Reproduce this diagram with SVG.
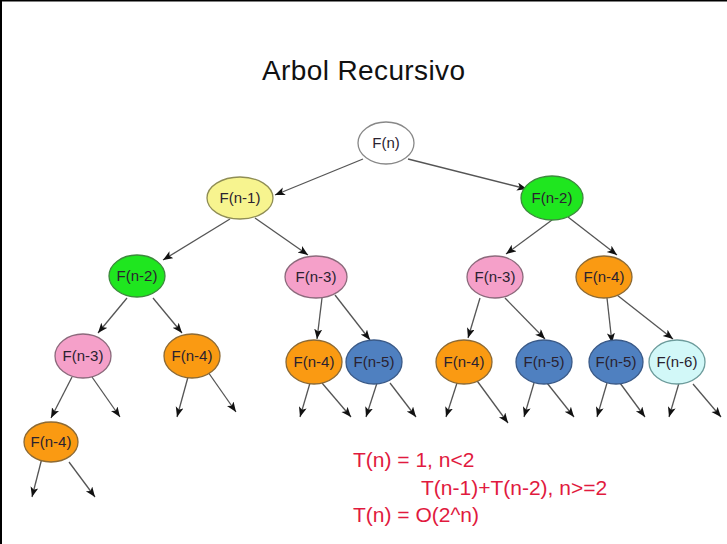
<svg xmlns="http://www.w3.org/2000/svg" width="727" height="544" viewBox="0 0 727 544">
<defs>
<marker id="arr" markerUnits="userSpaceOnUse" markerWidth="12" markerHeight="10" refX="10" refY="4" orient="auto">
<path d="M0,0 L10,4 L0,8 L2.5,4 z" fill="#111"/>
</marker>
<style>
.e{stroke:#666;stroke-width:1.3}
.w{fill:#ffffff;stroke:#888}
.y{fill:#f7f48f;stroke:#8f8d55}
.g{fill:#1fe61f;stroke:#3d8a3d}
.p{fill:#f5a0c9;stroke:#8c6a7c}
.o{fill:#fa9a12;stroke:#8c6a35}
.b{fill:#4f80c0;stroke:#3a5a88}
.c{fill:#d2f8f8;stroke:#6d9c9c}
.t{font-family:"Liberation Sans",Arial,sans-serif;font-size:15px;fill:#2a2230;text-anchor:middle}
.eq{font-family:"Liberation Sans",Arial,sans-serif;font-size:21px;fill:#e11a3e}
#edges line{stroke:#555;stroke-width:1.3;marker-end:url(#arr)}
</style>
</defs>
<rect x="0" y="0" width="727" height="544" fill="#ffffff"/>
<rect x="0" y="0" width="727" height="1.5" fill="#000"/>
<rect x="0" y="0" width="2" height="544" fill="#000"/>
<text x="262" y="80" font-family="'Liberation Sans',Arial,sans-serif" font-size="28" fill="#111" textLength="203" lengthAdjust="spacing">Arbol Recursivo</text>

<g id="edges">
<line x1="363" y1="159" x2="275" y2="195"/>
<line x1="408" y1="159" x2="527" y2="189"/>
<line x1="230" y1="219" x2="163" y2="260"/>
<line x1="255" y1="218" x2="308" y2="255"/>
<line x1="552" y1="220" x2="506" y2="254"/>
<line x1="568" y1="217" x2="617" y2="255"/>
<line x1="127" y1="298" x2="98" y2="333"/>
<line x1="153" y1="298" x2="182" y2="333"/>
<line x1="322" y1="298" x2="317" y2="339"/>
<line x1="335" y1="295" x2="370" y2="340"/>
<line x1="480" y1="298" x2="468" y2="338"/>
<line x1="505" y1="298" x2="545" y2="339"/>
<line x1="607" y1="298" x2="612" y2="343"/>
<line x1="617" y1="295" x2="673" y2="339"/>
<line x1="72" y1="377" x2="51" y2="418"/>
<line x1="92" y1="377" x2="120" y2="417"/>
<line x1="188" y1="377" x2="177" y2="417"/>
<line x1="208" y1="372" x2="236" y2="412"/>
<line x1="310" y1="383" x2="300" y2="417"/>
<line x1="322" y1="383" x2="351" y2="417"/>
<line x1="377" y1="383" x2="366" y2="417"/>
<line x1="390" y1="383" x2="416" y2="417"/>
<line x1="457" y1="383" x2="446" y2="417"/>
<line x1="475" y1="378" x2="508" y2="423"/>
<line x1="534" y1="383" x2="524" y2="417"/>
<line x1="547" y1="383" x2="574" y2="417"/>
<line x1="607" y1="383" x2="597" y2="417"/>
<line x1="620" y1="383" x2="645" y2="417"/>
<line x1="679" y1="383" x2="669" y2="417"/>
<line x1="693" y1="384" x2="721" y2="417"/>
<line x1="42" y1="458" x2="32" y2="497"/>
<line x1="69" y1="462" x2="95" y2="497"/>
</g>

<g id="n0"><ellipse class="e w" cx="386" cy="143" rx="28" ry="21"/><text class="t" x="386" y="148">F(n)</text></g>
<g id="n1"><ellipse class="e y" cx="240" cy="198" rx="33" ry="21"/><text class="t" x="240" y="203">F(n-1)</text></g>
<g id="n2"><ellipse class="e g" cx="552" cy="198" rx="31" ry="22"/><text class="t" x="552" y="203">F(n-2)</text></g>
<g id="n3"><ellipse class="e g" cx="137" cy="276" rx="28" ry="21"/><text class="t" x="137" y="281">F(n-2)</text></g>
<g id="n4"><ellipse class="e p" cx="316" cy="277" rx="31" ry="21"/><text class="t" x="316" y="282">F(n-3)</text></g>
<g id="n5"><ellipse class="e p" cx="495" cy="277" rx="28" ry="21"/><text class="t" x="495" y="282">F(n-3)</text></g>
<g id="n6"><ellipse class="e o" cx="604" cy="277" rx="28" ry="21"/><text class="t" x="604" y="282">F(n-4)</text></g>
<g id="n7"><ellipse class="e p" cx="83" cy="356" rx="28" ry="22"/><text class="t" x="83" y="361">F(n-3)</text></g>
<g id="n8"><ellipse class="e o" cx="192" cy="356" rx="28" ry="22"/><text class="t" x="192" y="361">F(n-4)</text></g>
<g id="n9"><ellipse class="e o" cx="314" cy="362" rx="28" ry="22"/><text class="t" x="314" y="367">F(n-4)</text></g>
<g id="n10"><ellipse class="e b" cx="374" cy="362" rx="28" ry="22"/><text class="t" x="374" y="367">F(n-5)</text></g>
<g id="n11"><ellipse class="e o" cx="464" cy="362" rx="28" ry="22"/><text class="t" x="464" y="367">F(n-4)</text></g>
<g id="n12"><ellipse class="e b" cx="544" cy="362" rx="28" ry="22"/><text class="t" x="544" y="367">F(n-5)</text></g>
<g id="n13"><ellipse class="e b" cx="616" cy="362" rx="27" ry="22"/><text class="t" x="616" y="367">F(n-5)</text></g>
<g id="n14"><ellipse class="e c" cx="677" cy="362" rx="28" ry="22"/><text class="t" x="677" y="367">F(n-6)</text></g>
<g id="n15"><ellipse class="e o" cx="51" cy="442" rx="27" ry="20"/><text class="t" x="51" y="447">F(n-4)</text></g>

<g id="equations">
<text class="eq" x="353" y="467">T(n) = 1, n&lt;2</text>
<text class="eq" x="421" y="495">T(n-1)+T(n-2), n&gt;=2</text>
<text class="eq" x="353" y="522">T(n) = O(2^n)</text>
</g>
</svg>
